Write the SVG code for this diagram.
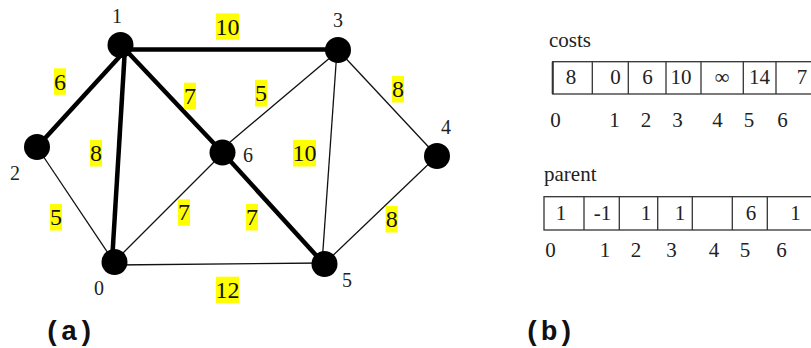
<svg xmlns="http://www.w3.org/2000/svg" width="811" height="348" viewBox="0 0 811 348">
<style>
.thin{stroke:#111;stroke-width:1.3;fill:none}
.thick{stroke:#000;stroke-width:4.5;fill:none}
.node{fill:#000}
.nl{font-family:"Liberation Serif",serif;font-size:20px;fill:#222;text-anchor:middle}
.wb{fill:#ffff00}
.wt{font-family:"Liberation Serif",serif;font-size:24px;fill:#111;text-anchor:middle}
.tb{fill:none;stroke:#333;stroke-width:1.3}
.tt{font-family:"Liberation Serif",serif;font-size:21px;fill:#222;text-anchor:middle}
.ts{text-anchor:start}
.cap{font-family:"Liberation Mono","Courier New",monospace;font-size:28px;font-weight:bold;fill:#111}
</style>
<g id="connectors">
<line class="thin" x1="37" y1="147" x2="114" y2="262"/>
<line class="thin" x1="114" y1="262" x2="223" y2="153"/>
<line class="thin" x1="114" y1="265" x2="324" y2="263"/>
<line class="thin" x1="223" y1="148" x2="338" y2="51"/>
<line class="thin" x1="337" y1="50" x2="322" y2="264"/>
<line class="thin" x1="338" y1="50" x2="437" y2="156"/>
<line class="thin" x1="437" y1="156" x2="324" y2="264"/>
<line class="thick" x1="121" y1="49.5" x2="338" y2="49.5"/>
<line class="thick" x1="37" y1="147" x2="122" y2="54"/>
<line class="thick" x1="125" y1="48" x2="112" y2="262"/>
<line class="thick" x1="121" y1="45" x2="223" y2="153"/>
<line class="thick" x1="223" y1="153" x2="324" y2="264"/>
</g>
<g id="weights">
<rect class="wb" x="216" y="13.3" width="23" height="26.5"/><text class="wt" x="227.5" y="34.5">10</text>
<rect class="wb" x="54" y="68.3" width="12" height="26.5"/><text class="wt" x="60" y="89.5">6</text>
<rect class="wb" x="184" y="82.7" width="12" height="26.5"/><text class="wt" x="190" y="104">7</text>
<rect class="wb" x="255" y="80" width="12" height="26.5"/><text class="wt" x="261" y="101">5</text>
<rect class="wb" x="392" y="76" width="12" height="26.5"/><text class="wt" x="398" y="97">8</text>
<rect class="wb" x="90" y="140" width="12" height="26.5"/><text class="wt" x="96" y="161">8</text>
<rect class="wb" x="293" y="140" width="23" height="26.5"/><text class="wt" x="304.5" y="161">10</text>
<rect class="wb" x="50" y="204" width="12" height="26.5"/><text class="wt" x="56" y="225">5</text>
<rect class="wb" x="178" y="199.3" width="12" height="26.5"/><text class="wt" x="184" y="220.3">7</text>
<rect class="wb" x="246" y="204" width="12" height="26.5"/><text class="wt" x="252" y="225">7</text>
<rect class="wb" x="385.7" y="206" width="12" height="26.5"/><text class="wt" x="391.7" y="227">8</text>
<rect class="wb" x="216" y="276.7" width="23" height="26.5"/><text class="wt" x="227.5" y="297.7">12</text>
</g>
<g id="n0"><circle class="node" cx="114.5" cy="262" r="13"/><text class="nl" x="99" y="295">0</text></g>
<g id="n1"><circle class="node" cx="120.5" cy="45" r="13"/><text class="nl" x="117" y="23">1</text></g>
<g id="n2"><circle class="node" cx="37" cy="147" r="13"/><text class="nl" x="15" y="180">2</text></g>
<g id="n3"><circle class="node" cx="338" cy="50" r="13"/><text class="nl" x="338" y="27">3</text></g>
<g id="n4"><circle class="node" cx="437" cy="156" r="13"/><text class="nl" x="446" y="134">4</text></g>
<g id="n5"><circle class="node" cx="324.5" cy="264" r="13"/><text class="nl" x="347" y="287">5</text></g>
<g id="n6"><circle class="node" cx="222.5" cy="152.5" r="13"/><text class="nl" x="248" y="162">6</text></g>
<g id="costs">
<text class="tt ts" x="549" y="47">costs</text>
<rect class="tb" x="552.7" y="61.7" width="280" height="32.3"/>
<line x1="552.7" y1="61.7" x2="552.7" y2="94" stroke="#333" stroke-width="2"/>
<g stroke="#333" stroke-width="1.3">
<line x1="592.3" y1="61.7" x2="592.3" y2="94"/>
<line x1="628.3" y1="61.7" x2="628.3" y2="94"/>
<line x1="666" y1="61.7" x2="666" y2="94"/>
<line x1="701" y1="61.7" x2="701" y2="94"/>
<line x1="743.3" y1="61.7" x2="743.3" y2="94"/>
<line x1="776" y1="61.7" x2="776" y2="94"/>
</g>
<text class="tt" x="571" y="84">8</text>
<text class="tt" x="615.5" y="84">0</text>
<text class="tt" x="647.5" y="84">6</text>
<text class="tt" x="681" y="84">10</text>
<text class="tt" x="722" y="84">∞</text>
<text class="tt" x="759.5" y="84">14</text>
<text class="tt" x="802" y="84">7</text>
<text class="tt" x="555.5" y="127">0</text>
<text class="tt" x="614.5" y="127">1</text>
<text class="tt" x="646" y="127">2</text>
<text class="tt" x="677.5" y="127">3</text>
<text class="tt" x="717.5" y="127">4</text>
<text class="tt" x="749" y="127">5</text>
<text class="tt" x="782.5" y="127">6</text>
</g>
<g id="parent">
<text class="tt ts" x="544" y="181">parent</text>
<rect class="tb" x="544" y="196.7" width="290" height="33.3"/>
<g stroke="#333" stroke-width="1.3">
<line x1="584" y1="196.7" x2="584" y2="230"/>
<line x1="619.3" y1="196.7" x2="619.3" y2="230"/>
<line x1="657.7" y1="196.7" x2="657.7" y2="230"/>
<line x1="692.3" y1="196.7" x2="692.3" y2="230"/>
<line x1="732.3" y1="196.7" x2="732.3" y2="230"/>
<line x1="767.3" y1="196.7" x2="767.3" y2="230"/>
</g>
<text class="tt" x="561" y="220">1</text>
<text class="tt" x="602.5" y="220">-1</text>
<text class="tt" x="646" y="220">1</text>
<text class="tt" x="680" y="220">1</text>
<text class="tt" x="751" y="220">6</text>
<text class="tt" x="795.5" y="220">1</text>
<text class="tt" x="550.5" y="257">0</text>
<text class="tt" x="605" y="257">1</text>
<text class="tt" x="636" y="257">2</text>
<text class="tt" x="671.5" y="257">3</text>
<text class="tt" x="714" y="257">4</text>
<text class="tt" x="745" y="257">5</text>
<text class="tt" x="781.5" y="257">6</text>
</g>
<g id="captions">
<text class="cap" x="44" y="340">(a)</text>
<text class="cap" x="524" y="340">(b)</text>
</g>
</svg>
